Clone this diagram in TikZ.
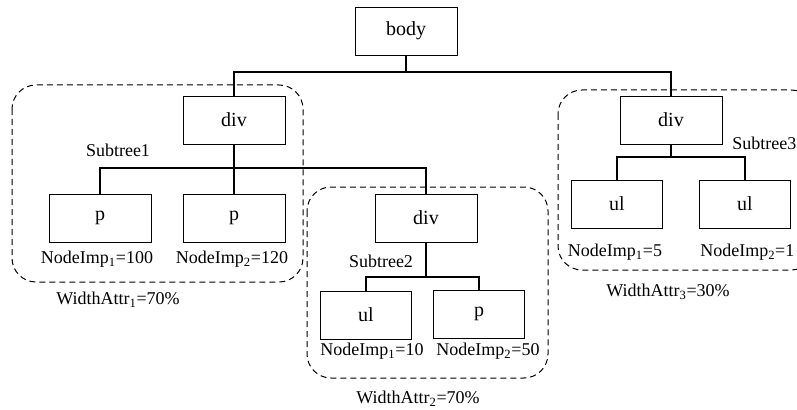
\documentclass[tikz,border=0pt]{standalone}
\usepackage{fontspec}
\setmainfont{Liberation Serif}
\usepackage{tikz}
\usetikzlibrary{positioning}

\begin{document}
\begin{tikzpicture}[x=0.75pt, y=-0.75pt,
    tag/.style={draw, line width=0.6pt, minimum height=36pt, inner sep=0pt,
      font=\fontsize{15}{18}\selectfont},
    wide/.style={tag, minimum width=76.5pt},
    narrow/.style={tag, minimum width=68pt},
    lbl/.style={inner sep=0pt, font=\fontsize{13.5}{16}\selectfont},
    edge/.style={line width=1pt},
    group/.style={dashed, dash pattern=on 4.5pt off 3pt, line width=0.75pt, rounded corners=18pt}]
  \useasboundingbox (0,0) rectangle (797,410);
  % Wurzel
  \node[wide] (body) at (406,31) {body};
  % Teilbaeume (gestrichelt)
  \draw[group] (12,85) rectangle (303,282);
  \draw[group] (307,187) rectangle (548,378);
  \draw[group] (558,90) rectangle (815,270);
  % Subtree1
  \node[wide] (div1) at (234,120) {div};
  \node[wide] (p1) at (100,218) {p};
  \node[wide] (p2) at (234,218) {p};
  \node[lbl] (st1) at (118,150) {Subtree1};
  \node[lbl] (imp11) at (97,259) {NodeImp\textsubscript{1}=100};
  \node[lbl] (imp12) at (232,259) {NodeImp\textsubscript{2}=120};
  \node[lbl] (wa1) at (118,300) {WidthAttr\textsubscript{1}=70\%};
  % Subtree2
  \node[wide] (div2) at (426,218) {div};
  \node[narrow] (ul21) at (366,315) {ul};
  \node[narrow] (p21) at (479,314) {p};
  \node[lbl] (st2) at (381,261) {Subtree2};
  \node[lbl] (imp21) at (372,351) {NodeImp\textsubscript{1}=10};
  \node[lbl] (imp22) at (488,351) {NodeImp\textsubscript{2}=50};
  \node[lbl] (wa2) at (418,399) {WidthAttr\textsubscript{2}=70\%};
  % Subtree3
  \node[wide] (div3) at (671,120) {div};
  \node[narrow] (ul31) at (617,204) {ul};
  \node[narrow] (ul32) at (745,204) {ul};
  \node[lbl, anchor=west] (st3) at (732,143) {Subtree3};
  \node[lbl] (imp31) at (615,252) {NodeImp\textsubscript{1}=5};
  \node[lbl, anchor=west] (imp32) at (700,252) {NodeImp\textsubscript{2}=1};
  \node[lbl] (wa3) at (668,292) {WidthAttr\textsubscript{3}=30\%};
  % Verbindungen
  \coordinate (j0) at (406,72);
  \coordinate (j1) at (234,168);
  \coordinate (j2) at (426,277);
  \coordinate (j3) at (671,157);
  \draw[edge] (body) -- (j0);
  \draw[edge] (div1) |- (j0) -| (div3);
  \draw[edge] (div1) -- (j1);
  \draw[edge] (p1) |- (j1) -| (div2);
  \draw[edge] (j1) -- (p2);
  \draw[edge] (div2) -- (j2);
  \draw[edge] (ul21) |- (j2) -| (p21);
  \draw[edge] (div3) -- (j3);
  \draw[edge] (ul31) |- (j3) -| (ul32);
\end{tikzpicture}
\end{document}
